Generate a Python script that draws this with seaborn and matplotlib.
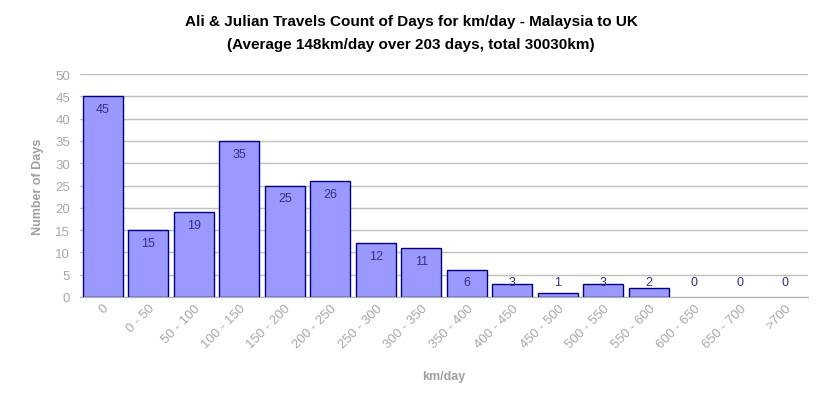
import numpy as np
import pandas as pd
import matplotlib
matplotlib.use("Agg")
import matplotlib.pyplot as plt
import seaborn as sns

# km/day buckets and day counts
buckets = ["0", "0 - 50", "50 - 100", "100 - 150", "150 - 200", "200 - 250", "250 - 300",
           "300 - 350", "350 - 400", "400 - 450", "450 - 500", "500 - 550", "550 - 600",
           "600 - 650", "650 - 700", ">700"]
days = [45, 15, 19, 35, 25, 26, 12, 11, 6, 3, 1, 3, 2, 0, 0, 0]
y_ticks = list(range(0, 55, 5))

df = pd.DataFrame({"bucket": buckets, "days": days})

sns.set_style("white")
plt.rcParams["font.family"] = ["Liberation Sans", "DejaVu Sans"]

fig = plt.figure(figsize=(8.22, 4.14), dpi=100)
ax = fig.add_axes([80 / 822, 1 - 298 / 414, 728 / 822, 223 / 414])

sns.barplot(data=df, x="bucket", y="days", color="#9999ff", saturation=1,
            edgecolor="#000080", linewidth=1, width=0.88, ax=ax, zorder=3)

# empty buckets get no outline
for patch, v in zip(ax.patches, days):
    if v == 0:
        patch.set_linewidth(0)

# value labels inside the top of each bar
for i, v in enumerate(days):
    ax.text(i, max(v - 2.9, 3.4), str(v), ha="center", va="center",
            fontsize=9, color="#333380", zorder=4)

ax.set_ylim(0, 50)
ax.set_xlim(-0.5, len(buckets) - 0.5)
ax.set_yticks(y_ticks)
ax.grid(axis="y", color="#c0c0c0", linewidth=1, zorder=0)
ax.set_axisbelow(True)
for s in ["left", "right", "top"]:
    ax.spines[s].set_visible(False)
ax.spines["bottom"].set_color("#b0b0b0")
ax.tick_params(axis="both", length=0, colors="#a8a8a8", labelsize=9.5)
ax.tick_params(axis="y", pad=7)
plt.setp(ax.get_xticklabels(), rotation=45, ha="right", rotation_mode="anchor")

ax.set_ylabel("Number of Days", fontsize=9, color="#a0a0a0", fontweight="bold", labelpad=8)
ax.set_xlabel("km/day", fontsize=9, color="#a0a0a0", fontweight="bold", labelpad=14)

fig.text(411 / 822, 1 - 22 / 414, "Ali & Julian Travels Count of Days for km/day - Malaysia to UK",
         ha="center", va="center", fontsize=11, fontweight="bold", color="#000000")
fig.text(411 / 822, 1 - 45 / 414, "(Average 148km/day over 203 days, total 30030km)",
         ha="center", va="center", fontsize=11, fontweight="bold", color="#000000")

fig.savefig("out.png", dpi=100)
